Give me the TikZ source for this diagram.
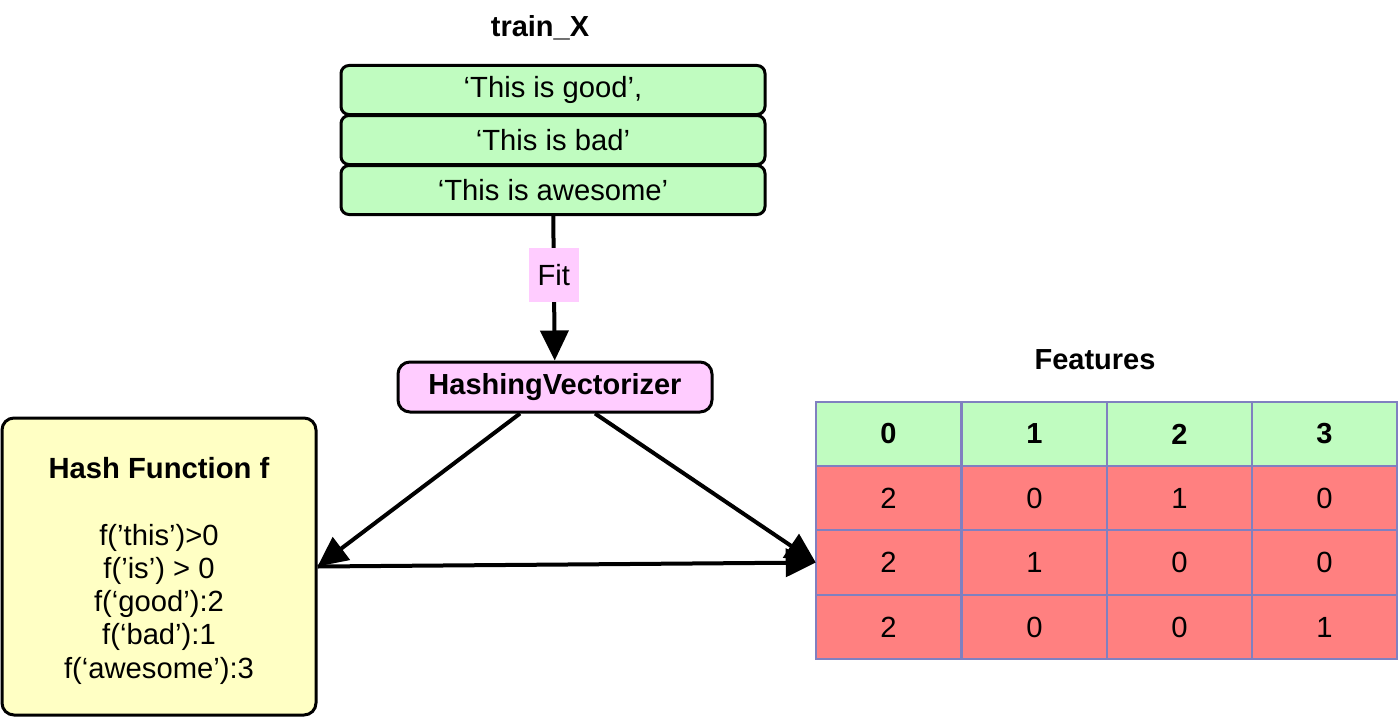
\documentclass[tikz,border=0pt]{standalone}
\usepackage{fontspec}
\setmainfont{Liberation Sans}
\usetikzlibrary{arrows.meta}

\definecolor{gruen}{HTML}{C0FCC0}
\definecolor{rosa}{HTML}{FFCCFF}
\definecolor{gelb}{HTML}{FFFFC4}
\definecolor{rot}{HTML}{FF8080}
\definecolor{rahmen}{HTML}{8080C0}

\tikzset{
  satz/.style={draw, line width=1.5pt, rounded corners=4pt, fill=gruen,
    minimum width=212pt, minimum height=24.5pt, inner sep=0pt},
  pfeil/.style={line width=2pt, -{Triangle[length=15pt,width=14pt]}},
  zelle/.style={draw=rahmen, line width=1pt, minimum width=72.75pt,
    minimum height=32.1pt, inner sep=0pt, outer sep=0pt},
  fett/.style={font=\fontsize{14.5}{16.5}\selectfont\bfseries},
}

\begin{document}
\begin{tikzpicture}[x=0.5pt,y=-0.5pt,font=\fontsize{14.6}{16.6}\selectfont]
          \useasboundingbox (0,0) rectangle (1400,717);

          % Eingabedaten
          \node[fett] (titel) at (540,28) {train\_X};
          \node[satz] (s1) at (553,90) {‘This is good’,};
          \node[satz] (s2) at (553,140) {‘This is bad’};
          \node[satz] (s3) at (553,190) {‘This is awesome’};

          % Vektorisierer
          \node[draw, line width=1.5pt, rounded corners=6pt, fill=rosa, minimum width=157pt,
            minimum height=25pt, inner sep=0pt, fett] (hv) at (555,387) {HashingVectorizer};
          \draw[pfeil] (s3) -- node[pos=0.41, fill=rosa, minimum width=25pt, minimum height=27pt,
            inner sep=0pt] (fit) {Fit} (hv);

          % Hashfunktion
          \node[draw, line width=1.5pt, rounded corners=6pt, fill=gelb, minimum width=157pt,
            minimum height=148.5pt, inner sep=0pt] (hash) at (159,566.5) {};
          \node[align=center] (hashtext) at (159,571)
            {\textbf{Hash Function f}\\[16.6pt]
             f(’this’)>0\\ f(’is’) > 0\\ f(‘good’):2\\ f(‘bad’):1\\ f(‘awesome’):3};

          % Features-Tabelle
          \node[fett] (ftitel) at (1095,360) {Features};
          \foreach \s/\xx in {0/888.5,1/1034.5,2/1179.5,3/1324.5}
            \node[zelle, fill=gruen, fett] (k\s) at (\xx,434) {\s};
          \foreach \s/\xx/\a/\b/\c in {0/888.5/2/2/2,1/1034.5/0/1/0,2/1179.5/1/0/0,3/1324.5/0/0/1}{
            \node[zelle, fill=rot] (a\s) at (\xx,498) {\a};
            \node[zelle, fill=rot] (b\s) at (\xx,562.5) {\b};
            \node[zelle, fill=rot] (c\s) at (\xx,627) {\c};
          }

          % Pfeile
          \draw[pfeil] ([xshift=-17.5pt]hv.south) -- (hash.east);   % nach links zur Hashfunktion
          \draw[pfeil] ([xshift=20pt]hv.south) -- (b0.west);        % nach rechts zur Tabelle
          \draw[pfeil] (hash.east) -- (b0.west);                    % Hashfunktion zu Features
        \end{tikzpicture}
\end{document}
